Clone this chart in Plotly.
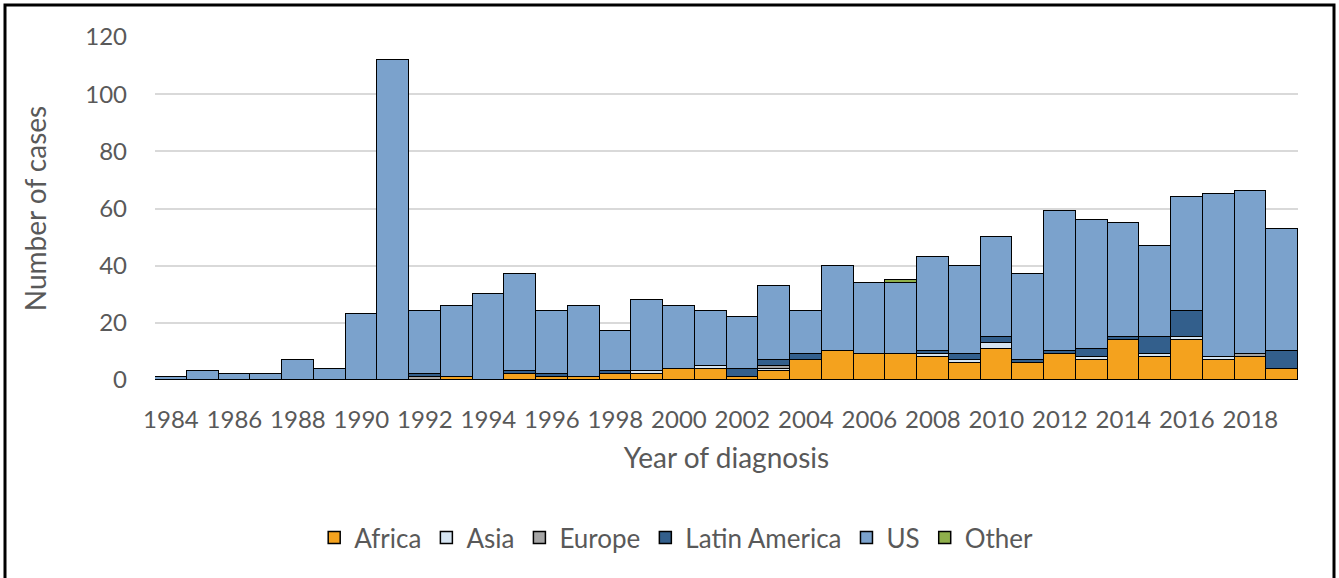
import plotly.graph_objects as go

years = list(range(1984, 2020))

africa = [0, 0, 0, 0, 0, 0, 0, 0, 0, 1, 0, 2, 1, 1, 2, 2, 4, 4,
          1, 3, 7, 10, 9, 9, 8, 6, 11, 6, 9, 7, 14, 8, 14, 7, 8, 4]
asia = [0, 0, 0, 0, 0, 0, 0, 0, 0, 0, 0, 0, 0, 0, 0, 1, 0, 1,
        0, 1, 0, 0, 0, 0, 1, 1, 2, 0, 0, 1, 0, 1, 1, 1, 0, 0]
europe = [0, 0, 0, 0, 0, 0, 0, 0, 1, 0, 0, 0, 0, 0, 0, 0, 0, 0,
          0, 1, 0, 0, 0, 0, 0, 0, 0, 0, 0, 0, 0, 0, 0, 0, 1, 0]
latin_america = [0, 0, 0, 0, 0, 0, 0, 0, 1, 0, 0, 1, 1, 0, 1, 0, 0, 0,
                 3, 2, 2, 0, 0, 0, 1, 2, 2, 1, 1, 3, 1, 6, 9, 0, 0, 6]
us = [1, 3, 2, 2, 7, 4, 23, 112, 22, 25, 30, 34, 22, 25, 14, 25, 22, 19,
      18, 26, 15, 30, 25, 25, 33, 31, 35, 30, 49, 45, 40, 32, 40, 57, 57, 43]
other = [0, 0, 0, 0, 0, 0, 0, 0, 0, 0, 0, 0, 0, 0, 0, 0, 0, 0,
         0, 0, 0, 0, 0, 1, 0, 0, 0, 0, 0, 0, 0, 0, 0, 0, 0, 0]

series = [
    ("Africa", africa, "#F4A21E"),
    ("Asia", asia, "#D6E5F2"),
    ("Europe", europe, "#A5A5A5"),
    ("Latin America", latin_america, "#335F8C"),
    ("US", us, "#7BA2CC"),
    ("Other", other, "#8FAF4B"),
]

FONT = "Lato"
GREY = "#595959"

fig = go.Figure()
for name, vals, color in series:
    fig.add_trace(go.Bar(
        x=years,
        y=[v if v else None for v in vals],  # skip empty segments (no stray outlines)
        name=name,
        marker=dict(color=color, line=dict(color="black", width=1.5)),
        width=1,
    ))

# plot area: x 155..1298, y 37..380
L, R, T, B = 155, 41, 37, 198
W, H = 1339, 578
pw, ph = W - L - R, H - T - B


def px(x):
    return (x - L) / pw


def py(y):
    return (H - B - y) / ph


# outer frame
fig.add_shape(type="rect", xref="paper", yref="paper",
              x0=px(5), x1=px(1334), y0=py(590), y1=py(5),
              line=dict(color="black", width=3), fillcolor="rgba(0,0,0,0)")

fig.update_layout(
    width=W, height=H,
    margin=dict(l=L, r=R, t=T, b=B),
    barmode="stack", bargap=0,
    plot_bgcolor="white", paper_bgcolor="white",
    font=dict(family=FONT, color=GREY, size=24),
    legend=dict(orientation="h", xref="container", yref="container",
                x=0.505, xanchor="center", y=0.07, yanchor="middle",
                font=dict(size=26, color=GREY), traceorder="normal"),
    xaxis=dict(
        range=[1983.5, 2019.5], tickmode="linear", tick0=1984, dtick=2,
        tickangle=0, showgrid=False, zeroline=False, showline=False,
        ticklabelstandoff=23, tickfont=dict(size=24, color=GREY),
        title=dict(text="Year of diagnosis", font=dict(size=28, color=GREY), standoff=16),
    ),
    yaxis=dict(
        range=[0, 120], dtick=20, showgrid=True, gridcolor="#D9D9D9", gridwidth=2,
        zeroline=False, showline=False, ticklabelstandoff=27,
        tickfont=dict(size=24, color=GREY),
        title=dict(text="Number of cases", font=dict(size=28, color=GREY), standoff=30),
    ),
)

fig.write_html("out.html", config={"displayModeBar": False},
               post_script="document.body.style.margin='0';")
